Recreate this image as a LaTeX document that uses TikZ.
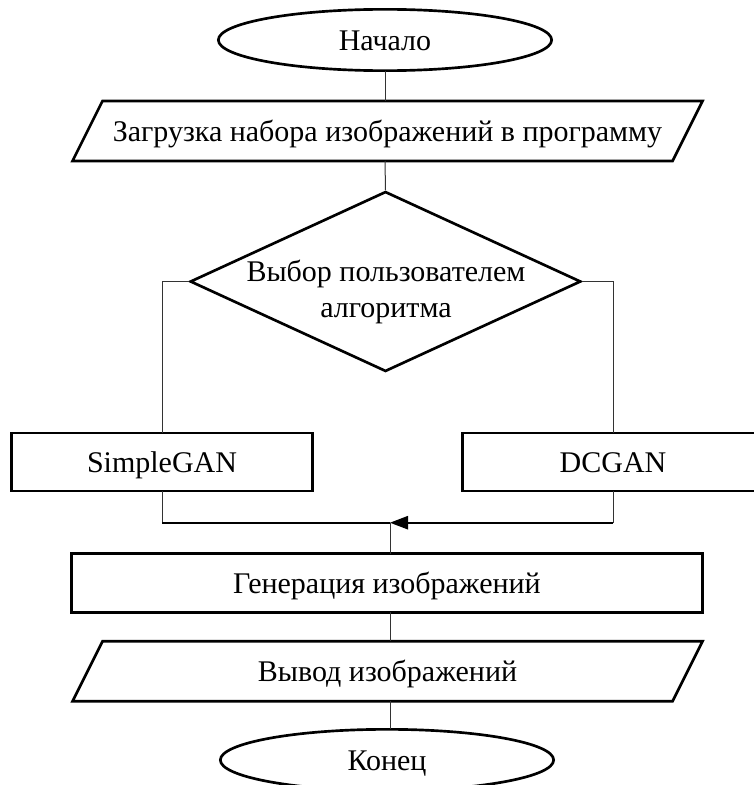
\documentclass[tikz,border=0pt]{standalone}
\usepackage{fontspec}
\setmainfont{Liberation Serif}
\usetikzlibrary{shapes.geometric,arrows.meta}
\tikzset{
  txt/.style={font=\fontsize{22.5}{26.5}\selectfont, inner sep=0pt, outer sep=0pt, align=center},
  one/.style={text height=19pt, text depth=4pt},
  shapeline/.style={line width=2pt, line join=miter},
  term/.style={txt, one, ellipse, draw, shapeline, minimum width=250pt, minimum height=46pt},
  procbox/.style={txt, one, rectangle, draw, shapeline, minimum height=43.5pt},
  iobox/.style={txt, one, rectangle, draw=none, minimum width=450pt, minimum height=45pt},
  decision/.style={diamond, draw, shapeline, inner sep=0pt, minimum width=293pt, minimum height=135pt},
  conn/.style={line width=0.75pt, draw=black!80},
  mergeline/.style={line width=1.2pt, draw=black},
}
\begin{document}
\begin{tikzpicture}[x=0.75pt,y=-0.75pt]
\useasboundingbox (0,0) rectangle (753,785);

\node[term] (start) at (385,40) {Начало};
\node[iobox] (load) at (387.5,131) {Загрузка набора изображений в программу};
\draw[shapeline] ([xshift=-11.25pt]load.south west) -- ([xshift=-11.25pt]load.south east)
  -- ([xshift=11.25pt]load.north east) -- ([xshift=11.25pt]load.north west) -- cycle;

\node[decision] (dia) at (385.5,281.5) {};
\node[txt] (diatext) at (386,292) {Выбор пользователем\\алгоритма};

\node[procbox, minimum width=226pt] (simple) at (162,462) {SimpleGAN};
\node[procbox, minimum width=226pt] (dcgan) at (613,462) {DCGAN};

\coordinate (merge) at (390,522.7);

\node[procbox, minimum width=473pt, minimum height=44pt] (gen) at (387,583) {Генерация изображений};

\node[iobox] (out) at (387.5,671.3) {Вывод изображений};
\draw[shapeline] ([xshift=-11.25pt]out.south west) -- ([xshift=-11.25pt]out.south east)
  -- ([xshift=11.25pt]out.north east) -- ([xshift=11.25pt]out.north west) -- cycle;

\node[term] (end) at (387,760) {Конец};

\draw[conn] (start.south) -- (start.south |- load.north);
\draw[conn] (start.south |- load.south) -- (dia.north);
\draw[conn] (dia.west) -| (simple.north);
\draw[conn] (dia.east) -| (dcgan.north);
\draw[conn] (simple.south) -- (simple.south |- merge);
\draw[conn] (dcgan.south) -- (dcgan.south |- merge);
\draw[mergeline] (simple.south |- merge) -- (merge);
\draw[mergeline, -{Triangle[length=13.5pt,width=10pt]}] (dcgan.south |- merge) -- (merge);
\draw[conn] (merge) -- (merge |- gen.north);
\draw[conn] (merge |- gen.south) -- (merge |- out.north);
\draw[conn] (merge |- out.south) -- (merge |- end.north);
\end{tikzpicture}
\end{document}
